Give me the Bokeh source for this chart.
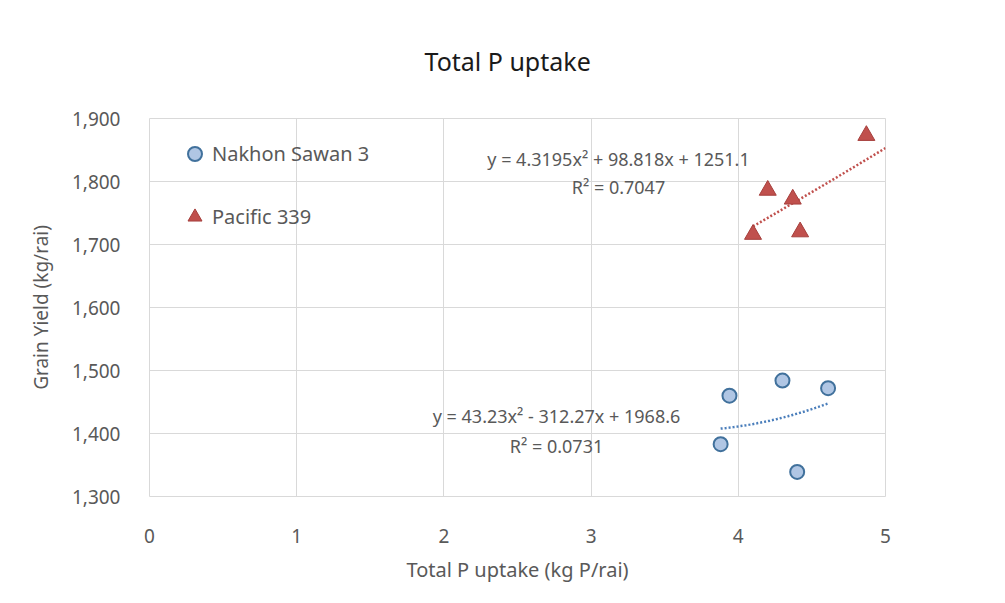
from bokeh.plotting import figure
from bokeh.models import Label, Legend, LegendItem, FixedTicker, NumeralTickFormatter, Title
from bokeh.embed import file_html
from bokeh.resources import INLINE
import numpy as np

# ---- data ----
ns3_x = [3.88, 3.94, 4.30, 4.40, 4.61]
ns3_y = [1383, 1460, 1484, 1339, 1472]
p339_x = [4.10, 4.20, 4.37, 4.42, 4.87]
p339_y = [1716, 1786, 1772, 1720, 1873]

ns3_coef = [43.23, -312.27, 1968.6]
p339_coef = [4.3195, 98.818, 1251.1]
ns3_trend_range = [3.88, 4.61]
p339_trend_range = [4.10, 5.0]

ns3_eq = "y = 43.23x² - 312.27x + 1968.6"
ns3_r2 = "R² = 0.0731"
p339_eq = "y = 4.3195x² + 98.818x + 1251.1"
p339_r2 = "R² = 0.7047"

x_ticks = [0, 1, 2, 3, 4, 5]
y_ticks = [1300, 1400, 1500, 1600, 1700, 1800, 1900]

title_text = "Total P uptake"
x_label = "Total P uptake (kg P/rai)"
y_label = "Grain Yield (kg/rai)"

FONT = "Noto Sans"
GRID = "#d9d9d9"
TXT = "#595959"

W, H = 1000, 600
FL, FR, FT, FB = 149, 885, 118, 496
p = figure(width=W, height=H, x_range=(0, 5), y_range=(1300, 1900),
           output_backend="svg", toolbar_location=None,
           min_border_left=FL, min_border_right=W - FR,
           min_border_top=FT, min_border_bottom=H - FB)
p.outline_line_color = GRID
p.outline_line_width = 1
p.background_fill_color = "white"
p.border_fill_color = "white"

p.title = Title(text=title_text, align="left", offset=275, standoff=82,
                text_font=FONT, text_font_size="25px", text_font_style="normal",
                text_color="#1a1a1a")

for ax in (p.xaxis[0], p.yaxis[0]):
    ax.axis_line_color = None
    ax.major_tick_line_color = None
    ax.minor_tick_line_color = None
    ax.major_label_text_font = FONT
    ax.major_label_text_color = TXT
    ax.major_label_text_font_size = "19px"
    ax.axis_label_text_font = FONT
    ax.axis_label_text_color = TXT
    ax.axis_label_text_font_style = "normal"

p.xaxis.axis_label_text_font_size = "20px"
p.yaxis.axis_label_text_font_size = "19px"
p.xaxis.ticker = FixedTicker(ticks=x_ticks)
p.yaxis.ticker = FixedTicker(ticks=y_ticks)
p.yaxis.formatter = NumeralTickFormatter(format="0,0")
p.xaxis.major_label_standoff = 26
p.yaxis.major_label_standoff = 23
p.xaxis.axis_label = x_label
p.yaxis.axis_label = y_label
p.xaxis.axis_label_standoff = 10
p.yaxis.axis_label_standoff = 15

p.xgrid.ticker = FixedTicker(ticks=x_ticks)
p.ygrid.ticker = FixedTicker(ticks=y_ticks)
p.xgrid.grid_line_color = GRID
p.ygrid.grid_line_color = GRID

# trend lines (from the fitted polynomial coefficients shown on the chart)
def quad(coef, rng):
    xs = np.linspace(rng[0], rng[1], 60)
    return xs, coef[0] * xs ** 2 + coef[1] * xs + coef[2]

bx, by = quad(ns3_coef, ns3_trend_range)
rx, ry = quad(p339_coef, p339_trend_range)
p.line(bx, by, line_color="#4a7ebb", line_width=2.5, line_dash="2 2")
p.line(rx, ry, line_color="#c0504d", line_width=2.5, line_dash="2 2")

r_ns3 = p.scatter(ns3_x, ns3_y, marker="circle", size=14, fill_color="#b0c6e4",
                  line_color="#41719c", line_width=2)
r_p339 = p.scatter(p339_x, p339_y, marker="triangle", size=17, fill_color="#c0504d",
                   line_color="#a63f3c", line_width=1)

legend = Legend(items=[LegendItem(label="Nakhon Sawan 3", renderers=[r_ns3]),
                       LegendItem(label="Pacific 339", renderers=[r_p339])],
                location=(28, 262), orientation="vertical",
                border_line_color=None, background_fill_alpha=0,
                padding=0, margin=0, spacing=28, label_height=35,
                glyph_height=35, glyph_width=35, label_standoff=0,
                label_text_font=FONT, label_text_font_size="20px",
                label_text_color=TXT)
p.add_layout(legend)

def lab(x, y, t, size="18px", color=TXT):
    p.add_layout(Label(x=x, y=y, text=t, text_font=FONT, text_font_size=size,
                       text_color=color, text_align="center", text_baseline="middle"))

lab(3.186, 1836.5, p339_eq)
lab(3.186, 1790.5, p339_r2)
lab(2.765, 1427, ns3_eq)
lab(2.765, 1379.4, ns3_r2)

open("out.html", "w").write(file_html(p, INLINE))
